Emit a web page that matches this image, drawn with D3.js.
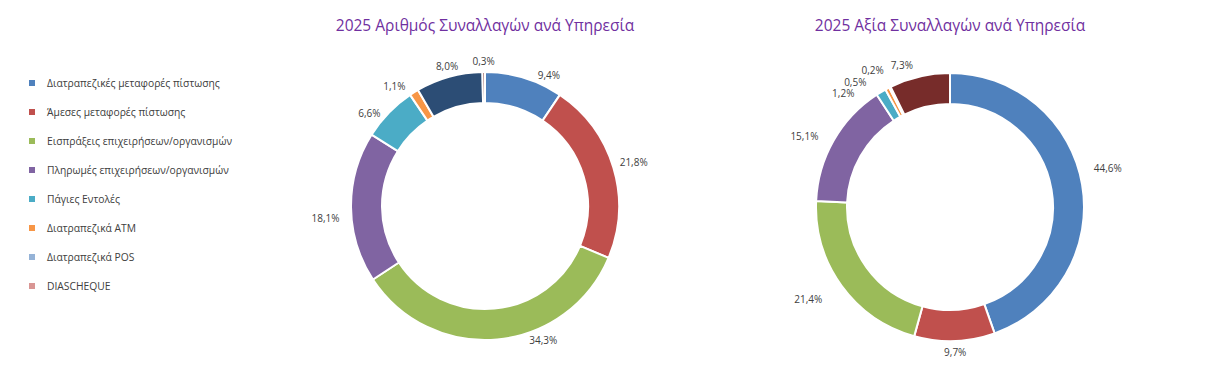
<!DOCTYPE html>
<html>
<head>
<meta charset="utf-8">
<script src="https://cdn.jsdelivr.net/npm/d3@7"></script>
<style>
  html, body { margin: 0; padding: 0; background: #ffffff; }
  svg { display: block; }
</style>
</head>
<body>
<svg id="chart" width="1232" height="374"></svg>
<script>
// ---------------- DATA ----------------
const categories = [
  "Διατραπεζικές μεταφορές πίστωσης",
  "Άμεσες μεταφορές πίστωσης",
  "Εισπράξεις επιχειρήσεων/οργανισμών",
  "Πληρωμές επιχειρήσεων/οργανισμών",
  "Πάγιες Εντολές",
  "Διατραπεζικά ATM",
  "Διατραπεζικά POS",
  "DIASCHEQUE"
];
const countShares = [9.4, 21.8, 34.3, 18.1, 6.6, 1.1, 8.0, 0.3];
const valueShares = [44.6, 9.7, 21.4, 15.1, 1.2, 0.5, 0.2, 7.3];
const chartTitles = ["2025 Αριθμός Συναλλαγών ανά Υπηρεσία", "2025 Αξία Συναλλαγών ανά Υπηρεσία"];

// ---------------- STYLE / LAYOUT ----------------
const sliceColors  = ["#4F81BD", "#C0504D", "#9BBB59", "#8064A2", "#4BACC6", "#F79646", "#2C4D75", "#772C2A"];
const legendColors = ["#4F81BD", "#C0504D", "#9BBB59", "#8064A2", "#4BACC6", "#F79646", "#95B3D7", "#D99694"];
const layout = {
  outerR: 134, innerR: 103, labelPad: 6,
  charts: [
    { cx: 485, cy: 206, titleY: 25,
      nudge: [8, -1, -17, -4, -4, -4, 1, 0],
      extra: [0, 2, 0, 6, 0, 3, 0, 0] },
    { cx: 950, cy: 207, titleY: 25,
      nudge: [-4.8, 0, 1.5, -2.3, -11, -8.1, -1.9, -4.9],
      extra: [9, 0, 18, 10, 8.5, 10, 10.7, 4.5] }
  ],
  legend: { x: 29, y0: 83, step: 29, box: 6, textX: 47 }
};

const fmt = d3.formatLocale({ decimal: ",", thousands: ".", grouping: [3], currency: ["", "€"] }).format(".1f");

const svg = d3.select("#chart");
const series = [countShares, valueShares];

const pie = d3.pie().sort(null).value(d => d);
const arc = d3.arc().innerRadius(layout.innerR).outerRadius(layout.outerR);

series.forEach((vals, ci) => {
  const cfg = layout.charts[ci];
  const g = svg.append("g").attr("transform", `translate(${cfg.cx},${cfg.cy})`);

  svg.append("text")
    .attr("x", cfg.cx).attr("y", cfg.titleY)
    .attr("text-anchor", "middle")
    .attr("dominant-baseline", "central")
    .attr("font-family", "'Open Sans', 'Noto Sans', sans-serif")
    .attr("font-size", 15.5)
    .attr("fill", "#7030A0")
    .text(chartTitles[ci]);

  const arcs = pie(vals);
  g.selectAll("path.slice").data(arcs).enter().append("path")
    .attr("class", "slice")
    .attr("d", arc)
    .attr("fill", (d, i) => sliceColors[i])
    .attr("stroke", "#ffffff")
    .attr("stroke-width", 2)
    .attr("stroke-linejoin", "round");

  const labels = g.selectAll("text.lbl").data(arcs).enter().append("text")
    .attr("class", "lbl")
    .attr("font-family", "'Open Sans', 'Noto Sans', sans-serif")
    .attr("font-size", 10)
    .attr("fill", "#404040")
    .attr("text-anchor", "middle")
    .attr("dominant-baseline", "central")
    .text(d => fmt(d.data) + "%");

  labels.each(function(d, i) {
    const w = this.getComputedTextLength();
    const h = 10;
    const a = (d.startAngle + d.endAngle) / 2 + cfg.nudge[i] * Math.PI / 180;
    const s = Math.sin(a), c = Math.cos(a);
    const r = layout.outerR + layout.labelPad + cfg.extra[i];
    const x = s * r + s * w / 2;
    const y = -c * r - c * h / 2;
    d3.select(this).attr("x", x).attr("y", y);
  });
});

// Legend
const lg = layout.legend;
const leg = svg.append("g");
categories.forEach((cat, i) => {
  const y = lg.y0 + i * lg.step;
  leg.append("rect")
    .attr("x", lg.x).attr("y", y - lg.box / 2)
    .attr("width", lg.box).attr("height", lg.box)
    .attr("fill", legendColors[i]);
  leg.append("text")
    .attr("x", lg.textX).attr("y", y)
    .attr("dominant-baseline", "central")
    .attr("font-family", "'Open Sans', 'Noto Sans', sans-serif")
    .attr("font-size", 10.3)
    .attr("fill", "#404040")
    .text(cat);
});
</script>
</body>
</html>
